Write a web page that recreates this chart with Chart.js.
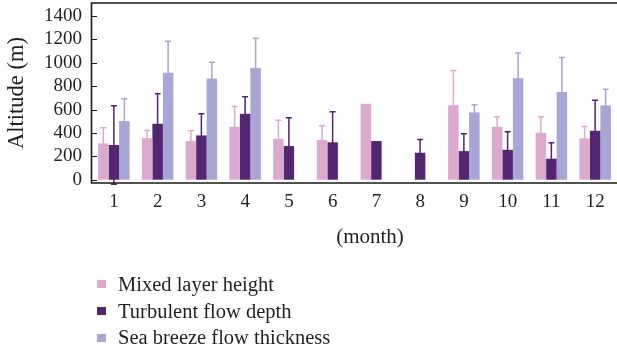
<!DOCTYPE html>
<html>
<head>
<meta charset="utf-8">
<script src="https://cdn.jsdelivr.net/npm/chart.js@4/dist/chart.umd.min.js"></script>
<style>
  body { margin: 0; background: #fff; }
  #wrap { position: relative; width: 617px; height: 356px; }
  #leyenda { position: absolute; left: 97px; top: 271px; font-family: "Liberation Serif", serif; font-size: 20.5px; color: #231f20; }
  #leyenda div { display: flex; align-items: center; height: 26.7px; }
  #leyenda span.caja { display: inline-block; width: 9px; height: 8px; margin-right: 12px; }
</style>
</head>
<body>
<div id="wrap">
  <canvas id="grafico" width="617" height="356"></canvas>
  <div id="leyenda"></div>
</div>
<script>
// datos
const meses = ["1", "2", "3", "4", "5", "6", "7", "8", "9", "10", "11", "12"];
const series = ["Mixed layer height", "Turbulent flow depth", "Sea breeze flow thickness"];
const capaMezcla = [311, 356, 331, 453, 350, 339, 650, null, 638, 453, 402, 354];
const errCapaMezcla = [133, 66, 88, 174, 158, 123, null, null, 297, 85, 136, 102];
const flujoTurb = [297, 479, 379, 564, 288, 320, 331, 231, 245, 256, 180, 419];
const errFlujoTurb = [335, 256, 185, 145, 242, 261, null, 114, 148, 154, 136, 262];
const brisaMarina = [502, 915, 867, 955, null, null, null, null, 576, 869, 750, 636];
const errBrisaMarina = [190, 270, 139, 256, null, null, null, null, 65, 216, 296, 139];
const ticksY = [0, 200, 400, 600, 800, 1000, 1200, 1400];
const tituloX = "(month)";

const colores = ["#ddaacf", "#522670", "#a8a6d4"];
const errores = [errCapaMezcla, errFlujoTurb, errBrisaMarina];
const fuente = "'Liberation Serif', 'Times New Roman', serif";

// barras de error, marco y titulo del eje x
const pluginErrores = {
  id: "errores",
  afterDatasetsDraw(chart) {
    const ctx = chart.ctx;
    const y = chart.scales.y;
    chart.data.datasets.forEach((ds, i) => {
      const meta = chart.getDatasetMeta(i);
      meta.data.forEach((bar, j) => {
        const v = ds.data[j];
        const e = errores[i][j];
        if (v == null || e == null) return;
        const yArriba = y.getPixelForValue(v + e);
        const yAbajo = y.getPixelForValue(v - e);
        ctx.save();
        ctx.strokeStyle = colores[i];
        ctx.lineWidth = 1.5;
        ctx.beginPath();
        ctx.moveTo(bar.x, yArriba);
        ctx.lineTo(bar.x, yAbajo);
        ctx.moveTo(bar.x - 3, yArriba);
        ctx.lineTo(bar.x + 3, yArriba);
        ctx.moveTo(bar.x - 3, yAbajo);
        ctx.lineTo(bar.x + 3, yAbajo);
        ctx.stroke();
        ctx.restore();
      });
    });
  },
  afterDraw(chart) {
    const ctx = chart.ctx;
    const a = chart.chartArea;
    const y = chart.scales.y;
    ctx.save();
    ctx.strokeStyle = "#1a1a1a";
    ctx.lineWidth = 1.6;
    ctx.beginPath();
    ctx.moveTo(a.right + 2, a.top);
    ctx.lineTo(a.left - 0.5, a.top);
    ctx.lineTo(a.left - 0.5, a.bottom);
    ctx.lineTo(a.right + 2, a.bottom);
    ctx.stroke();
    ctx.lineWidth = 1;
    ctx.beginPath();
    ticksY.forEach(t => {
      const py = Math.round(y.getPixelForValue(t)) + 0.5;
      ctx.moveTo(a.left, py);
      ctx.lineTo(a.left + 5, py);
    });
    ctx.stroke();
    ctx.fillStyle = "#231f20";
    ctx.font = "21px " + fuente;
    ctx.textAlign = "center";
    ctx.textBaseline = "middle";
    ctx.fillText(tituloX, 370, 237);
    ctx.restore();
  }
};

const chart = new Chart(document.getElementById("grafico"), {
  type: "bar",
  data: {
    labels: meses,
    datasets: [
      { label: series[0], data: capaMezcla, backgroundColor: colores[0] },
      { label: series[1], data: flujoTurb, backgroundColor: colores[1] },
      { label: series[2], data: brisaMarina, backgroundColor: colores[2] }
    ]
  },
  options: {
    responsive: false,
    animation: false,
    categoryPercentage: 0.72,
    barPercentage: 1,
    layout: { autoPadding: false, padding: { top: 3, right: 0, left: 0, bottom: 103 } },
    plugins: { legend: { display: false }, tooltip: { enabled: false } },
    scales: {
      x: {
        afterFit: s => { s.height = 70; s.paddingLeft = 0; s.paddingRight = 0; },
        grid: { display: false, drawTicks: false },
        border: { display: false },
        ticks: { autoSkip: false, maxRotation: 0, padding: 8, color: "#231f20", font: { family: fuente, size: 19 } }
      },
      y: {
        min: -28,
        max: 1512,
        afterFit: s => { s.width = 92; s.paddingTop = 0; s.paddingBottom = 0; },
        afterBuildTicks: s => { s.ticks = ticksY.map(v => ({ value: v })); },
        grid: { display: false, drawTicks: false },
        border: { display: false },
        ticks: { autoSkip: false, padding: 10, color: "#231f20", font: { family: fuente, size: 19 }, callback: v => String(v) },
        title: { display: true, text: "Altitude (m)", color: "#231f20", font: { family: fuente, size: 22.5 }, padding: { top: 4, bottom: 0 } }
      }
    }
  },
  plugins: [pluginErrores]
});

// leyenda en html
const leyenda = document.getElementById("leyenda");
series.forEach((nombre, i) => {
  const fila = document.createElement("div");
  fila.innerHTML = `<span class="caja" style="background:${colores[i]}"></span>${nombre}`;
  leyenda.appendChild(fila);
});
</script>
</body>
</html>
